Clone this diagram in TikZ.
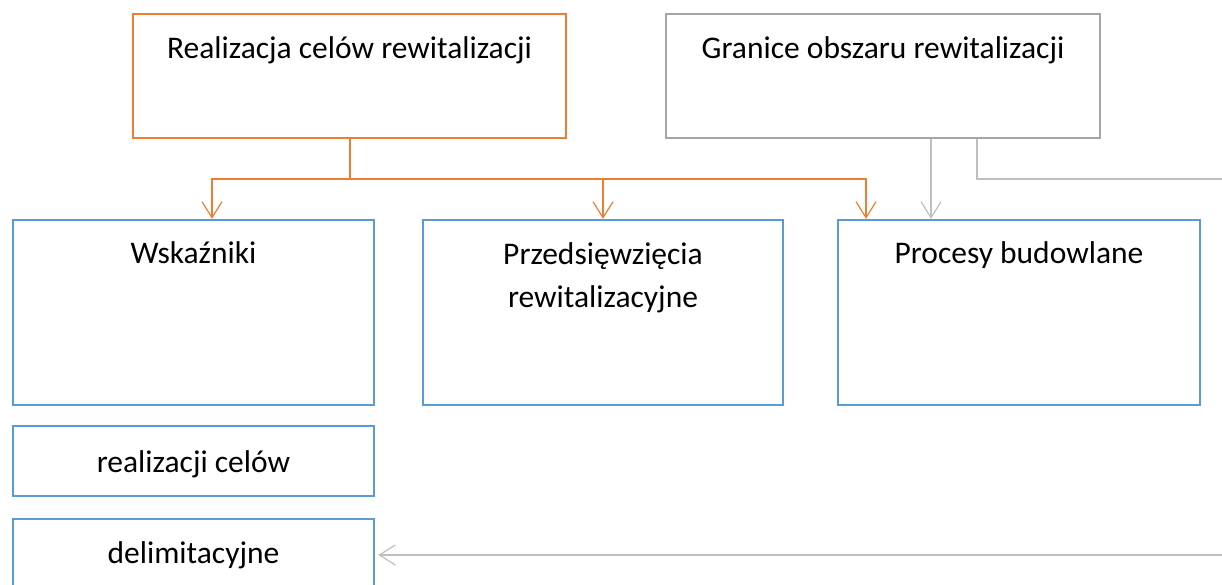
\documentclass[tikz,border=0pt]{standalone}
\usepackage{fontspec}
\setmainfont{Carlito}
\usetikzlibrary{arrows.meta}
\definecolor{orng}{RGB}{237,125,49}
\definecolor{blu}{RGB}{91,155,213}
\definecolor{gryb}{RGB}{165,165,165}
\definecolor{gryl}{RGB}{191,191,191}
\begin{document}
\begin{tikzpicture}[x=1pt,y=-1pt,
  box/.style={draw, line width=2.4pt, fill=white, inner sep=0pt},
  txt/.style={font=\fontsize{31.5}{38}\selectfont, align=center, anchor=base, inner sep=0pt},
  conn/.style={line width=1.2pt},
  arr/.style={conn, -{Straight Barb[length=16pt,width=20pt,line width=1.2pt]}}]
\useasboundingbox (0,0) rectangle (1222,585);
% boxes
\node[box, draw=orng, minimum width=433pt, minimum height=124pt] (goal) at (349.5,76) {};
\node[box, draw=gryb, minimum width=434pt, minimum height=124pt] (area) at (883,76) {};
\node[box, draw=blu, minimum width=361pt, minimum height=185pt] (wsk) at (193.5,312.5) {};
\node[box, draw=blu, minimum width=360pt, minimum height=185pt] (prz) at (603,312.5) {};
\node[box, draw=blu, minimum width=362pt, minimum height=185pt] (proc) at (1019,312.5) {};
\node[box, draw=blu, minimum width=361pt, minimum height=70pt] (real) at (193.5,461) {};
\node[box, draw=blu, minimum width=361pt, minimum height=80pt] (deli) at (193.5,559) {};
% texts
\node[txt] (tgoal) at (349.5,59) {Realizacja celów rewitalizacji};
\node[txt] (tarea) at (883,59) {Granice obszaru rewitalizacji};
\node[txt] (twsk) at (193.5,263) {Wskaźniki};
\node[txt] (tprz) at (603,264) {Przedsięwzięcia};
\node[txt] (tprz2) at (603,307) {rewitalizacyjne};
\node[txt] (tproc) at (1019,263) {Procesy budowlane};
\node[txt] (treal) at (193.5,472) {realizacji celów};
\node[txt] (tdeli) at (193.5,563) {delimitacyjne};
% orange connectors
\coordinate (ob) at (350,179);
\draw[conn, orng] (goal.south -| ob) -- (ob);
\draw[arr, orng] (ob) -| ([xshift=18.5pt]wsk.north);
\draw[arr, orng] (ob) -| (prz.north);
\draw[arr, orng] (ob) -| ([xshift=-153pt]proc.north);
% gray connectors
\draw[arr, gryl] ([xshift=48pt]area.south) -- ([xshift=-88pt]proc.north);
\coordinate (rgt) at (1222,179);
\draw[conn, gryl] ([xshift=94pt]area.south) |- (rgt);
\coordinate (rgt2) at (1222,555);
\draw[arr, gryl] (rgt2) -- ([xshift=3pt]deli.east |- rgt2);
\end{tikzpicture}
\end{document}
